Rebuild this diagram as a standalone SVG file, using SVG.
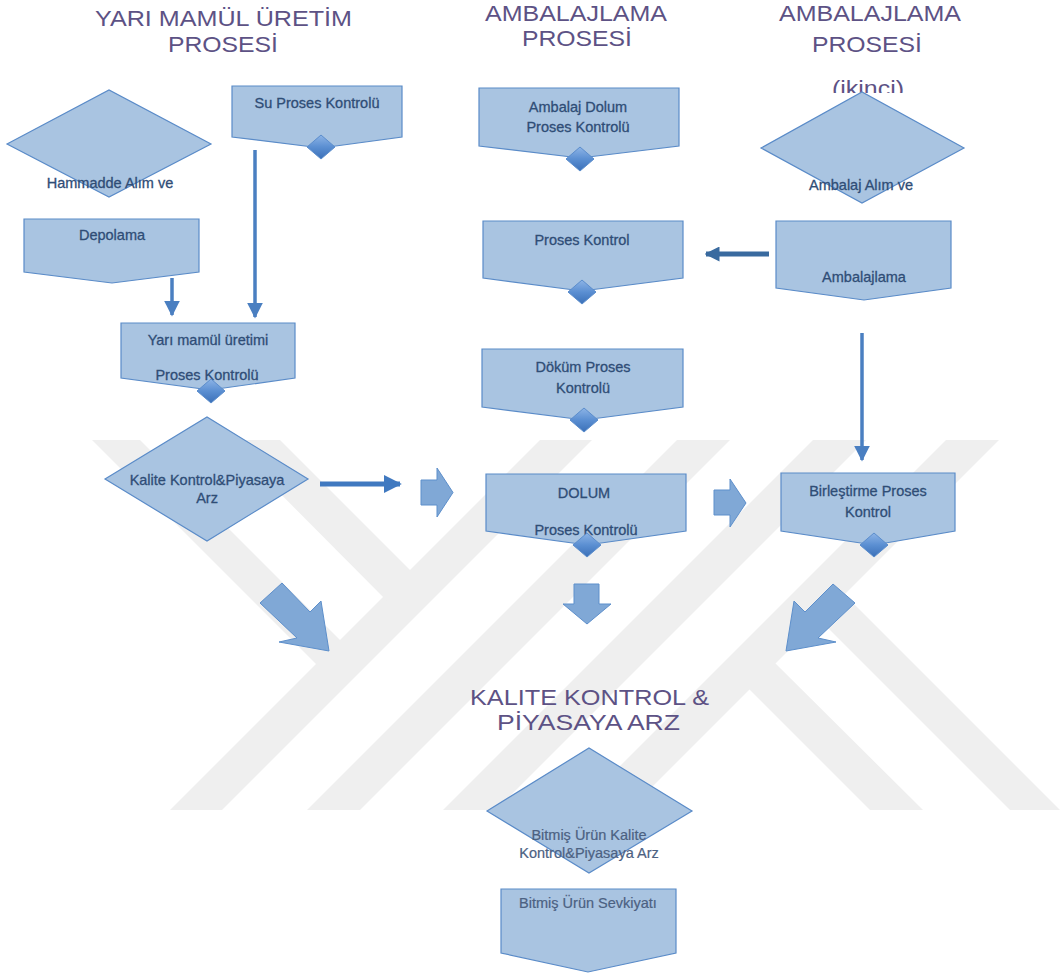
<svg xmlns="http://www.w3.org/2000/svg" width="1060" height="976" viewBox="0 0 1060 976">
<defs>
<linearGradient id="mkg" x1="0" y1="0" x2="0" y2="1">
<stop offset="0" stop-color="#8db4e6"/>
<stop offset="0.5" stop-color="#5b8fd2"/>
<stop offset="1" stop-color="#3b70b8"/>
</linearGradient>
<polygon id="mk" points="0,-12 14,0 0,12 -14,0" fill="url(#mkg)" stroke="#5b8dcc" stroke-width="1" stroke-linejoin="round"/>
<marker id="ah" viewBox="0 0 10 10" refX="9" refY="5" markerWidth="4.5" markerHeight="4.5" orient="auto" markerUnits="strokeWidth">
<path d="M0,0 L10,5 L0,10 Z" fill="#4a7fc1"/>
</marker>
<marker id="ah2" viewBox="0 0 10 10" refX="9" refY="5" markerWidth="3.6" markerHeight="3.6" orient="auto" markerUnits="strokeWidth">
<path d="M0,0 L10,5 L0,10 Z" fill="#4079c0"/>
</marker>
<marker id="ah3" viewBox="0 0 10 10" refX="9" refY="5" markerWidth="3" markerHeight="3" orient="auto" markerUnits="strokeWidth">
<path d="M0,0 L10,5 L0,10 Z" fill="#396a9f"/>
</marker>
<clipPath id="ikclip"><rect x="800" y="60" width="140" height="33"/></clipPath>
</defs>
<style>
.wm{fill:#efefef;stroke:none}
.shape{fill:#a9c4e1;stroke:#5a8bc8;stroke-width:1.2}
.blk{fill:#80a8d6;stroke:#5d8fcb;stroke-width:1}
.t{font-family:"Liberation Sans",Arial,sans-serif;font-size:14.5px;fill:#2f4d76;stroke:#2f4d76;stroke-width:0.3;text-anchor:middle}
.t2{font-family:"Liberation Sans",Arial,sans-serif;font-size:14.5px;fill:#4c6182;stroke:#4c6182;stroke-width:0.2;text-anchor:middle}
.title{font-family:"Liberation Sans",Arial,sans-serif;font-size:22px;fill:#5d5285;text-anchor:middle}
.ln{fill:none;stroke:#4a7fc1;stroke-width:3.5}
</style>
<rect width="1060" height="976" fill="#ffffff"/>
<g id="watermark">
<polygon class="wm" points="540,440 592,440 222,810 170,810"/>
<polygon class="wm" points="677,440 730,440 360,810 307,810"/>
<polygon class="wm" points="813,440 866,440 496,810 443,810"/>
<polygon class="wm" points="946,440 999,440 629,810 576,810"/>
<polygon class="wm" points="92,440 140,440 350,650 326,674"/>
<polygon class="wm" points="227,440 280,440 420,580 393,607"/>
<polygon class="wm" points="740,680 766,654 923,810 870,810"/>
<polygon class="wm" points="810,610 835,585 1060,810 1010,810"/>
</g>
<g id="titles">
<text class="title" x="223.5" y="26" textLength="257" lengthAdjust="spacingAndGlyphs">YARI MAMÜL ÜRETİM</text>
<text class="title" x="223" y="52" textLength="110" lengthAdjust="spacingAndGlyphs">PROSESİ</text>
<text class="title" x="576" y="21" textLength="182" lengthAdjust="spacingAndGlyphs">AMBALAJLAMA</text>
<text class="title" x="577" y="46" textLength="110" lengthAdjust="spacingAndGlyphs">PROSESİ</text>
<text class="title" x="870" y="21" textLength="182" lengthAdjust="spacingAndGlyphs">AMBALAJLAMA</text>
<text class="title" x="867" y="52" textLength="110" lengthAdjust="spacingAndGlyphs">PROSESİ</text>
<text class="title" x="868" y="96" textLength="72" lengthAdjust="spacingAndGlyphs" clip-path="url(#ikclip)">(ikinci)</text>
<text class="title" x="589.5" y="705" textLength="239" lengthAdjust="spacingAndGlyphs">KALITE KONTROL &amp;</text>
<text class="title" x="588.5" y="730" textLength="183" lengthAdjust="spacingAndGlyphs">PİYASAYA ARZ</text>
</g>
<g id="connectors">
<line class="ln" x1="255" y1="150" x2="255" y2="317" marker-end="url(#ah)"/>
<line class="ln" x1="172" y1="278" x2="172" y2="315" marker-end="url(#ah)"/>
<line class="ln" x1="862" y1="333" x2="862" y2="460" marker-end="url(#ah)"/>
<line x1="320" y1="484" x2="400" y2="484" stroke="#4079c0" stroke-width="5" marker-end="url(#ah2)"/>
<line x1="769" y1="254" x2="706" y2="254" stroke="#396a9f" stroke-width="5" marker-end="url(#ah3)"/>
<polygon class="blk" points="421,480 437,480 437,468 453,492.5 437,517 437,505 421,505"/>
<polygon class="blk" points="714,490 730,490 730,479 746,503 730,527 730,515 714,515"/>
<polygon class="blk" points="574,584 599,584 599,604 611,604 587,624 563,604 574,604"/>
<polygon class="blk" points="282,583 260,603 297,638 279,642 329,651 321,601 310,612"/>
<polygon class="blk" points="833,584 855,603 818,638 836,642 786,651 794,601 805,612"/>
</g>
<g id="n-hammadde">
<polygon class="shape" points="7,144 109,90 211,144 109,197"/>
<text class="t" x="110" y="188">Hammadde Alım ve</text>
</g>
<g id="n-depolama">
<path class="shape" d="M24 219 H199 V272 L112 283 L24 272 Z"/>
<text class="t" x="112" y="240">Depolama</text>
</g>
<g id="n-su">
<path class="shape" d="M232 86 H402 V137 L321 148 L232 137 Z"/>
<text class="t" x="317" y="108">Su Proses Kontrolü</text>
<use href="#mk" x="321" y="147"/>
</g>
<g id="n-yarimamul">
<path class="shape" d="M121 323 H295 V378 L210 390 L121 378 Z"/>
<text class="t" x="208" y="345">Yarı mamül üretimi</text>
<text class="t" x="207" y="380">Proses Kontrolü</text>
<use href="#mk" x="211" y="391"/>
</g>
<g id="n-kalite1">
<polygon class="shape" points="105,479 207,417 308,479 207,541"/>
<text class="t" x="207" y="485">Kalite Kontrol&amp;Piyasaya</text>
<text class="t" x="207" y="503">Arz</text>
</g>
<g id="n-ambalajdolum">
<path class="shape" d="M479 88 H679 V146 L580 158 L479 146 Z"/>
<text class="t" x="578" y="112">Ambalaj Dolum</text>
<text class="t" x="578" y="132">Proses Kontrolü</text>
<use href="#mk" x="580" y="159"/>
</g>
<g id="n-proseskontrol">
<path class="shape" d="M483 221 H683 V278 L582 291 L483 278 Z"/>
<text class="t" x="582" y="245">Proses Kontrol</text>
<use href="#mk" x="582" y="292"/>
</g>
<g id="n-ambalajalim">
<polygon class="shape" points="761,148 862,92 964,148 862,203"/>
<text class="t" x="861" y="190">Ambalaj Alım ve</text>
</g>
<g id="n-ambalajlama">
<path class="shape" d="M776 221 H951 V288 L864 300 L776 288 Z"/>
<text class="t" x="864" y="282">Ambalajlama</text>
</g>
<g id="n-dokum">
<path class="shape" d="M482 349 H683 V407 L584 420 L482 407 Z"/>
<text class="t" x="583" y="372">Döküm Proses</text>
<text class="t" x="583" y="393">Kontrolü</text>
<use href="#mk" x="584" y="420"/>
</g>
<g id="n-dolum">
<path class="shape" d="M486 474 H686 V531 L587 545 L486 531 Z"/>
<text class="t" x="584" y="498">DOLUM</text>
<text class="t" x="586" y="535">Proses Kontrolü</text>
<use href="#mk" x="587" y="545"/>
</g>
<g id="n-birlestirme">
<path class="shape" d="M781 473 H955 V531 L874 545 L781 531 Z"/>
<text class="t" x="868" y="496">Birleştirme Proses</text>
<text class="t" x="868" y="517">Kontrol</text>
<use href="#mk" x="874" y="545"/>
</g>
<g id="n-bitmiskalite">
<polygon class="shape" points="487,811 589,748 692,811 589,873"/>
<text class="t2" x="589" y="840">Bitmiş Ürün Kalite</text>
<text class="t2" x="589" y="858">Kontrol&amp;Piyasaya Arz</text>
</g>
<g id="n-sevkiyat">
<path class="shape" d="M501 889 H676 V953 L588 972 L501 953 Z"/>
<text class="t2" x="588" y="908">Bitmiş Ürün Sevkiyatı</text>
</g>
</svg>
